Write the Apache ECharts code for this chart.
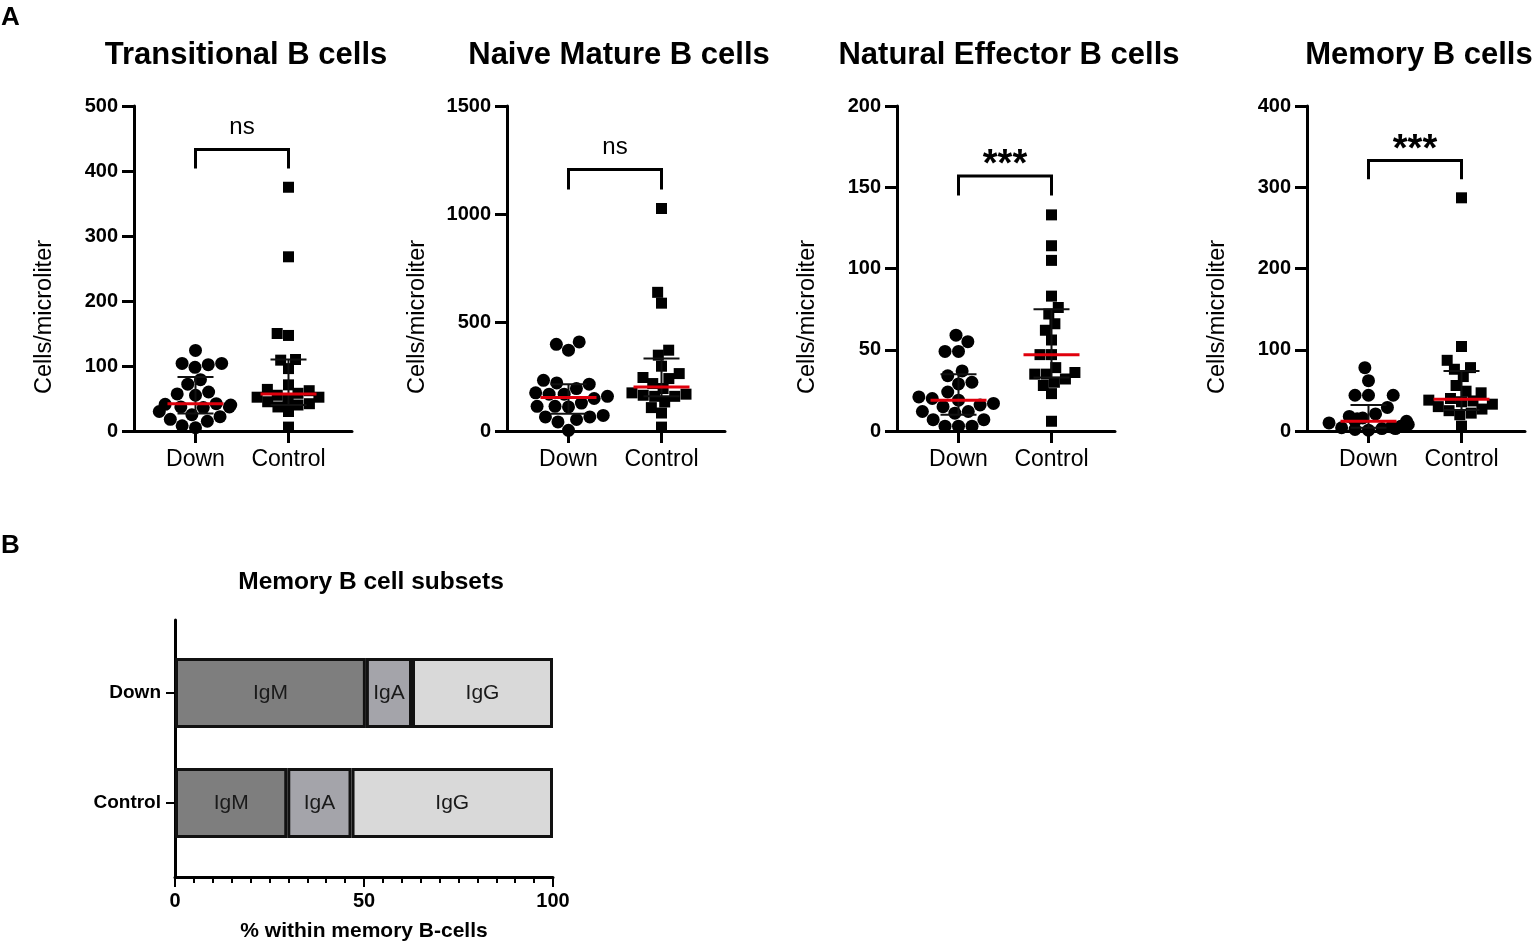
<!DOCTYPE html>
<html>
<head>
<meta charset="utf-8">
<script src="https://cdn.jsdelivr.net/npm/echarts@6.0.0/dist/echarts.min.js"></script>
<style>html,body{margin:0;padding:0;background:#fff}#c{width:1536px;height:947px}</style>
</head>
<body>
<div id="c"></div>
<script>
// ---------------- DATA ----------------
const groups = ['Down', 'Control'];
const panelTitles = ['Transitional B cells', 'Naive Mature B cells', 'Natural Effector B cells', 'Memory B cells'];
const yMax = [500, 1500, 200, 400];
const yInterval = [100, 500, 50, 100];

const transDown = [124, 104, 104, 102, 98, 79, 72, 60, 57, 55, 42, 41, 40, 37, 37, 36, 30, 25, 22, 18, 15, 8, 5];
const transCtrl = [375, 268, 150, 147, 110, 109, 96, 71, 64, 62, 58, 55, 52, 52, 49, 45, 42, 40, 37, 30, 6];
const naiveDown = [411, 400, 373, 234, 222, 216, 196, 176, 170, 170, 160, 150, 129, 114, 114, 111, 72, 65, 65, 53, 42, 3];
const naiveCtrl = [1027, 640, 590, 373, 350, 299, 265, 247, 242, 219, 196, 176, 170, 165, 160, 160, 134, 108, 83, 18];
const effDown = [59, 55, 49, 49, 37, 34, 30, 29, 24, 21, 20, 19, 17, 16, 15, 12, 12, 11, 7, 7, 3, 3, 3];
const effCtrl = [133, 114, 105, 83, 76, 72, 66, 62, 56, 47, 47, 39, 36, 35, 35, 32, 30, 28, 23, 6];
const memDown = [78, 62, 44, 44, 44, 29, 21, 18, 16, 15, 13, 12, 10, 8, 6, 5, 4, 3, 3, 2, 1];
const memCtrl = [287, 104, 87, 78, 76, 67, 56, 49, 47, 40, 38, 37, 36, 33, 30, 27, 25, 22, 20, 6];

// median, Q1, Q3 per panel: [Down, Control]
const medians = [[42, 57], [155, 203], [19, 47], [12, 39]];
const q1s = [[27, 40], [80, 160], [10, 33], [4, 26]];
const q3s = [[83, 110], [216, 335], [35, 75], [32, 74]];

// significance brackets (data units)
const bracketTop = [433, 1207, 157, 333];
const bracketEnd = [404, 1115, 145, 310];
const sigLabels = ['ns', 'ns', '***', '***'];

// Panel B: memory B cell subsets (%)
const subsetCats = ['Down', 'Control'];
const subsetNames = ['IgM', 'IgA', 'IgG'];
const igM = [50.5, 29.7];
const igA = [12.2, 17.0];
const igG = [37.3, 53.3];
const subsetTicks = [0, 50, 100];

// ---------------- BUILD ----------------
const FONT = '"Liberation Sans", Arial, Helvetica, sans-serif';
const panelData = [[transDown, transCtrl], [naiveDown, naiveCtrl], [effDown, effCtrl], [memDown, memCtrl]];
const axisX = [134, 507, 897, 1307];
const TOP = 106, H = 325, W = 218;

const grid = [], xAxis = [], yAxis = [], series = [], title = [], graphic = [];

panelData.forEach((pd, k) => {
  const X0 = axisX[k];
  const gF = grid.length;
  grid.push({ left: X0, top: TOP, width: W, height: H });
  const gD = grid.length;
  grid.push({ left: X0 + 15, top: TOP, width: 186, height: H });

  xAxis.push({ gridIndex: gF, type: 'value', min: 0, max: 1,
    axisLine: { show: true, lineStyle: { color: '#000', width: 3 } },
    axisTick: { show: false }, axisLabel: { show: false }, splitLine: { show: false } });
  xAxis.push({ gridIndex: gD, type: 'category', data: groups,
    jitter: 80, jitterOverlap: false, jitterMargin: 0.5,
    axisLine: { show: false },
    axisTick: { show: true, alignWithLabel: true, interval: 0, length: 12, lineStyle: { color: '#000', width: 3 } },
    axisLabel: { color: '#000', fontSize: 23, fontFamily: FONT, margin: 17, interval: 0 } });
  yAxis.push({ gridIndex: gF, type: 'value', min: 0, max: yMax[k], interval: yInterval[k],
    axisLine: { show: true, lineStyle: { color: '#000', width: 3 } },
    axisTick: { show: true, length: 12, lineStyle: { color: '#000', width: 3 } },
    axisLabel: { color: '#000', fontSize: 20, fontWeight: 'bold', fontFamily: FONT, margin: 16,
                 formatter: v => String(v) },
    splitLine: { show: false } });
  yAxis.push({ gridIndex: gD, type: 'value', min: 0, max: yMax[k], show: false, splitLine: { show: false } });

  const xi = xAxis.length - 1, yi = yAxis.length - 1;
  const asc = a => a.slice().sort((p, q) => p - q);

  series.push({ type: 'scatter', xAxisIndex: xi, yAxisIndex: yi, symbol: 'circle', symbolSize: 13,
    itemStyle: { color: '#000', opacity: 1 }, z: 3, silent: true,
    data: asc(pd[0]).map(v => [0, v]) });
  series.push({ type: 'scatter', xAxisIndex: xi, yAxisIndex: yi, symbol: 'rect', symbolSize: 11,
    itemStyle: { color: '#000', opacity: 1 }, z: 3, silent: true,
    data: asc(pd[1]).map(v => [1, v]) });

  // median + IQR
  series.push({ type: 'custom', xAxisIndex: xi, yAxisIndex: yi, z: 4, silent: true,
    data: groups.map((g, i) => [i, q1s[k][i], medians[k][i], q3s[k][i]]),
    encode: { x: 0, y: [1, 2, 3] },
    renderItem: (params, api) => {
      const i = api.value(0);
      const a = api.coord([i, api.value(1)]);
      const m = api.coord([i, api.value(2)]);
      const b = api.coord([i, api.value(3)]);
      const x = m[0], cw = 18, mw = 28;
      const ls = { stroke: '#111', lineWidth: 2 };
      return { type: 'group', children: [
        { type: 'line', shape: { x1: x, y1: a[1], x2: x, y2: b[1] }, style: ls },
        { type: 'line', shape: { x1: x - cw, y1: a[1], x2: x + cw, y2: a[1] }, style: ls },
        { type: 'line', shape: { x1: x - cw, y1: b[1], x2: x + cw, y2: b[1] }, style: ls },
        { type: 'line', shape: { x1: x - mw, y1: m[1], x2: x + mw, y2: m[1] }, style: { stroke: '#e0000c', lineWidth: 3 } }
      ] };
    } });

  // significance bracket
  series.push({ type: 'custom', xAxisIndex: xi, yAxisIndex: yi, z: 4, silent: true,
    data: [[0, bracketEnd[k], bracketTop[k]]],
    encode: { x: 0, y: [1, 2] },
    renderItem: (params, api) => {
      const yE = api.value(1), yT = api.value(2);
      const a = api.coord([0, yE]), b = api.coord([0, yT]), c = api.coord([1, yT]), d = api.coord([1, yE]);
      const lab = sigLabels[k];
      const star = lab.indexOf('*') >= 0;
      return { type: 'group', children: [
        { type: 'polyline', shape: { points: [a, b, c, d] }, style: { stroke: '#000', lineWidth: 3, fill: 'none' } },
        { type: 'text', x: (b[0] + c[0]) / 2, y: b[1] - (star ? 10 : 22),
          style: { text: lab, fill: '#000', fontFamily: FONT, fontSize: star ? 38 : 24,
                   fontWeight: star ? 'bold' : 'normal', align: 'center', verticalAlign: 'middle' } }
      ] };
    } });

  title.push({ text: panelTitles[k], left: X0 + W / 2 - 2, top: 50, textAlign: 'center', textVerticalAlign: 'middle',
    textStyle: { fontSize: 31, fontWeight: 'bold', color: '#000', fontFamily: FONT } });

  graphic.push({ type: 'text', x: X0 - 89, y: 317, rotation: Math.PI / 2,
    style: { text: 'Cells/microliter', fill: '#000', fontFamily: FONT, fontSize: 23.5,
             align: 'center', verticalAlign: 'middle' } });
});

// ---- Panel B ----
const gBF = grid.length;
grid.push({ left: 175, top: 620, width: 378, height: 257 });
const gBD = grid.length;
grid.push({ left: 175, top: 638, width: 378, height: 220 });

xAxis.push({ gridIndex: gBF, type: 'value', min: subsetTicks[0], max: subsetTicks[2], interval: subsetTicks[1] - subsetTicks[0],
  name: '% within memory B-cells', nameLocation: 'middle', nameGap: 44,
  nameTextStyle: { color: '#000', fontSize: 21, fontWeight: 'bold', fontFamily: FONT },
  axisLine: { show: true, lineStyle: { color: '#000', width: 3 } },
  axisTick: { show: true, length: 10, lineStyle: { color: '#000', width: 2 } },
  minorTick: { show: true, splitNumber: 10, length: 6, lineStyle: { color: '#000', width: 2 } },
  axisLabel: { color: '#000', fontSize: 20, fontWeight: 'bold', fontFamily: FONT, margin: 14 },
  splitLine: { show: false }, minorSplitLine: { show: false } });
yAxis.push({ gridIndex: gBF, type: 'value', min: 0, max: 1,
  axisLine: { show: true, lineStyle: { color: '#000', width: 3 } },
  axisTick: { show: false }, axisLabel: { show: false }, splitLine: { show: false } });
const bxi = xAxis.length;
xAxis.push({ gridIndex: gBD, type: 'value', min: 0, max: 100, show: false, splitLine: { show: false } });
const byi = yAxis.length;
yAxis.push({ gridIndex: gBD, type: 'category', data: subsetCats, inverse: true,
  axisLine: { show: false },
  axisTick: { show: true, alignWithLabel: true, interval: 0, length: 9, lineStyle: { color: '#000', width: 2 } },
  axisLabel: { color: '#000', fontSize: 19, fontWeight: 'bold', fontFamily: FONT, margin: 14, interval: 0 } });

const subsetVals = [igM, igA, igG];
const subsetColors = ['#7e7e7e', '#a4a4aa', '#d9d9d9'];
subsetNames.forEach((nm, j) => {
  series.push({ type: 'bar', name: nm, stack: 'mem', xAxisIndex: bxi, yAxisIndex: byi,
    barWidth: 70, data: subsetVals[j], silent: true,
    itemStyle: { color: subsetColors[j], borderColor: '#111', borderWidth: 3 },
    label: { show: true, position: 'inside', formatter: '{a}', color: '#1a1a1a', fontSize: 21, fontFamily: FONT } });
});

title.push({ text: 'Memory B cell subsets', left: 366, top: 577, textAlign: 'center', textVerticalAlign: 'middle',
  textStyle: { fontSize: 24.5, fontWeight: 'bold', color: '#000', fontFamily: FONT } });

graphic.push({ type: 'text', x: 1, y: 18, style: { text: 'A', fill: '#000', fontFamily: FONT, fontSize: 26, fontWeight: 'bold', align: 'left', verticalAlign: 'middle' } });
graphic.push({ type: 'text', x: 1, y: 546, style: { text: 'B', fill: '#000', fontFamily: FONT, fontSize: 26, fontWeight: 'bold', align: 'left', verticalAlign: 'middle' } });

const chart = echarts.init(document.getElementById('c'), null, { renderer: 'canvas' });
chart.setOption({
  animation: false,
  backgroundColor: '#fff',
  title, grid, xAxis, yAxis, series, graphic
});
</script>
</body>
</html>
